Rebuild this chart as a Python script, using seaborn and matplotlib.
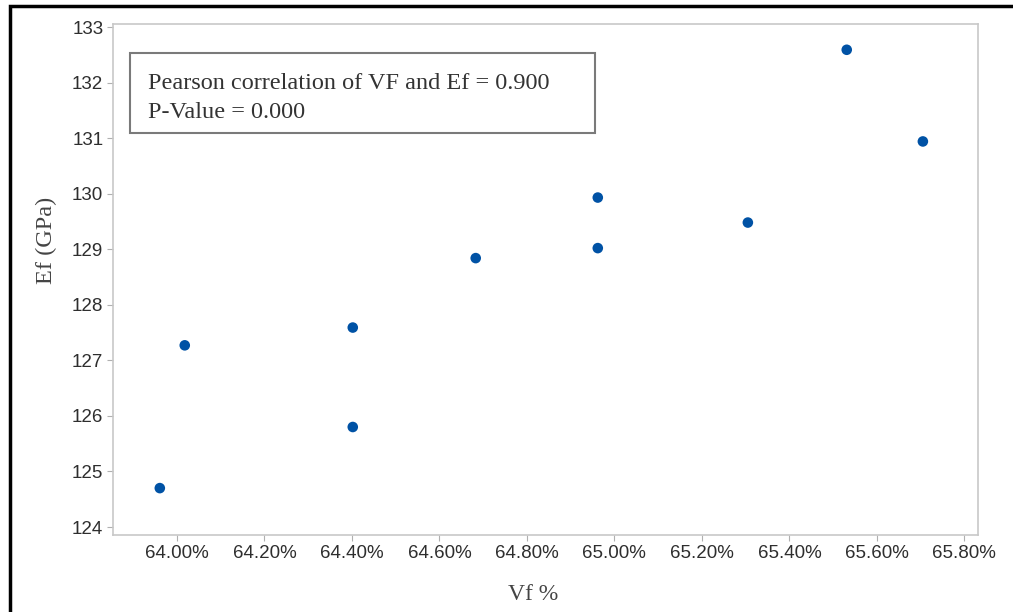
import numpy as np
import pandas as pd
import matplotlib
matplotlib.use("Agg")
import matplotlib.pyplot as plt
import seaborn as sns
from matplotlib.patches import Rectangle
from matplotlib.ticker import FuncFormatter

# valores
vf_pct = [63.961, 64.018, 64.402, 64.402, 64.683, 64.962, 64.962, 65.305, 65.531, 65.705]
ef_gpa = [124.70, 127.27, 125.80, 127.59, 128.84, 129.02, 129.93, 129.48, 132.59, 130.94]
x_ticks = [64.0, 64.2, 64.4, 64.6, 64.8, 65.0, 65.2, 65.4, 65.6, 65.8]
y_ticks = [124, 125, 126, 127, 128, 129, 130, 131, 132, 133]
texto_caixa = ["Pearson correlation of VF and Ef = 0.900", "P-Value = 0.000"]

df = pd.DataFrame({"VF": vf_pct, "Ef": ef_gpa})

sns.set_theme(style="white")
plt.rcParams["font.family"] = ["Liberation Sans", "DejaVu Sans"]

fig = plt.figure(figsize=(10.13, 6.12), dpi=100)
ax = fig.add_axes([113 / 1013, 1 - 535 / 612, 865 / 1013, 511 / 612])

sns.scatterplot(data=df, x="VF", y="Ef", ax=ax, color="#0052a5", s=58,
                edgecolor="none", legend=False)

ax.set_xlim(63.854, 65.831)
ax.set_ylim(123.856, 133.054)
ax.set_xticks(x_ticks)
ax.set_yticks(y_ticks)
ax.xaxis.set_major_formatter(FuncFormatter(lambda v, p: f"{v:.2f}%"))
ax.tick_params(axis="both", which="major", direction="out", length=4, width=0.8,
               color="#b0b0b0", labelsize=13.5, labelcolor="#2e2e2e", pad=3,
               bottom=True, left=True)

for sp in ax.spines.values():
    sp.set_color("#c8c8c8")
    sp.set_linewidth(1.2)

serif = ["Liberation Serif", "DejaVu Serif"]
ax.set_xlabel("Vf %", fontsize=17, family=serif, color="#444444")
ax.set_ylabel("Ef (GPa)", fontsize=17.5, family=serif, color="#444444")
ax.xaxis.set_label_coords(0.4855, -0.095)
ax.yaxis.set_label_coords(-0.065, 0.577)

# caixa com a correlação
ax.add_patch(Rectangle((0.0197, 0.787), 0.537, 0.156, transform=ax.transAxes,
                       facecolor="white", edgecolor="#7a7a7a", linewidth=1.5))
ax.text(0.0405, 0.8845, texto_caixa[0], transform=ax.transAxes, fontsize=17.5,
        family=serif, color="#333333", va="center", ha="left")
ax.text(0.0405, 0.826, texto_caixa[1], transform=ax.transAxes, fontsize=17.5,
        family=serif, color="#333333", va="center", ha="left")

# moldura preta externa
fig.patches.append(Rectangle((10 / 1013, -0.2), 1.2, 1.2 - 6 / 612,
                             transform=fig.transFigure, fill=False,
                             edgecolor="black", linewidth=2.5, clip_on=False))

fig.savefig("out.png", dpi=100)
